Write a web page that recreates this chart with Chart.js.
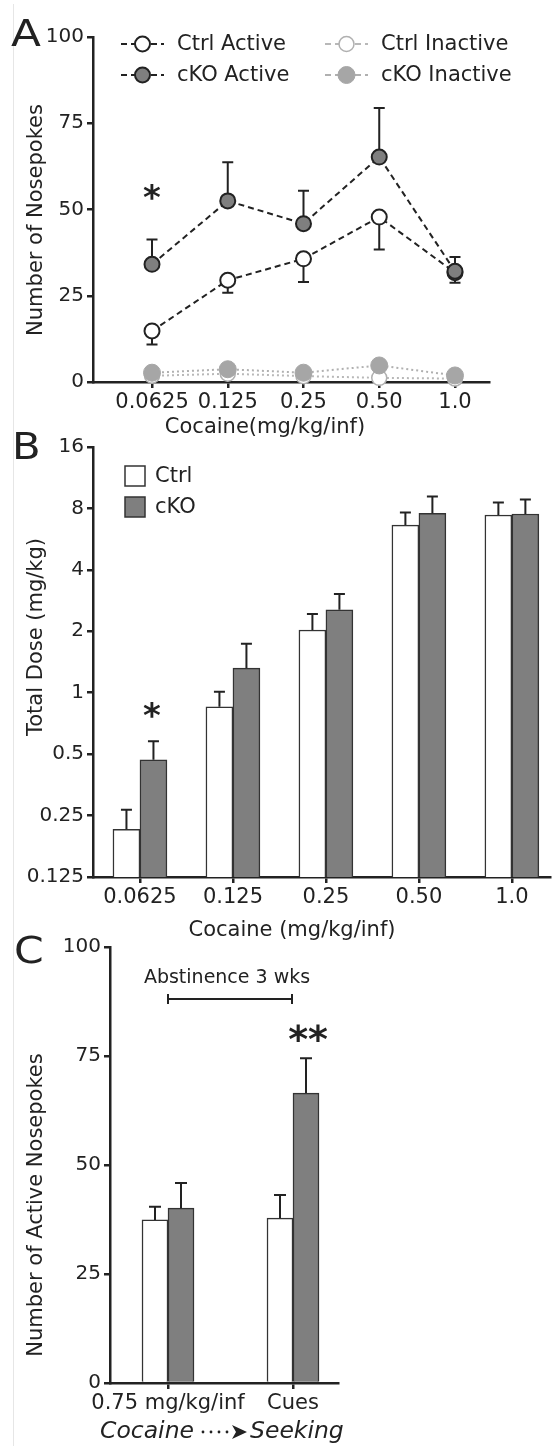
<!DOCTYPE html>
<html><head><meta charset="utf-8">
<script src="https://cdn.jsdelivr.net/npm/chart.js@4.4.1/dist/chart.umd.min.js"></script>
<style>
html,body{margin:0;padding:0;background:#fff;}
#wrap{position:relative;width:560px;height:1446px;overflow:hidden;background:#fff;}
canvas{position:absolute;left:0;}
.frame{position:absolute;left:13px;top:4px;width:1px;height:1442px;background:#e6e6e6;}
</style></head><body>
<div id="wrap">
<div class="frame"></div>
<canvas id="cA" width="560" height="450" style="top:0;width:560px;height:450px"></canvas>
<canvas id="cB" width="560" height="510" style="top:430px;width:560px;height:510px"></canvas>
<canvas id="cC" width="560" height="516" style="top:930px;width:560px;height:516px"></canvas>
</div>
<script>
// ---------- data ----------
const doseLabels = ['0.0625', '0.125', '0.25', '0.50', '1.0'];
const ctrlActive = [14.8, 29.5, 35.7, 47.8, 31.7];
const ctrlActiveSem = [3.9, 3.6, 6.7, 9.4, 2.9];
const ckoActive = [34.1, 52.5, 45.9, 65.2, 32.1];
const ckoActiveSem = [7.2, 11.2, 9.5, 14.2, 4.1];
const ctrlInactive = [1.8, 2.4, 1.7, 1.2, 1.0];
const ckoInactive = [2.7, 3.7, 2.7, 4.8, 1.9];
const aTicks = [0, 25, 50, 75, 100];

const ctrlDose = [0.214, 0.853, 2.03, 6.63, 7.43];
const ctrlDoseSem = [0.053, 0.157, 0.40, 1.02, 1.12];
const ckoDose = [0.469, 1.32, 2.55, 7.57, 7.51];
const ckoDoseSem = [0.109, 0.42, 0.50, 1.57, 1.35];
const bTicks = [0.125, 0.25, 0.5, 1, 2, 4, 8, 16];

const seekLabels = ['0.75 mg/kg/inf', 'Cues'];
const ctrlSeek = [37.4, 37.8];
const ctrlSeekSem = [3.0, 5.3];
const ckoSeek = [40.1, 66.5];
const ckoSeekSem = [5.8, 8.0];
const cTicks = [0, 25, 50, 75, 100];

// ---------- helpers ----------
const F = "'DejaVu Sans', Verdana, sans-serif";
const INK = '#222';
const GRAY = '#7f7f7f';
function pts(arr) { return arr.map((v, i) => ({x: i, y: v})); }

function xAxis(labels, min, max, h) {
  return {
    type: 'linear', min: min, max: max, offset: false,
    afterBuildTicks(s) { s.ticks = labels.map((_, i) => ({value: i})); s.min = min; s.max = max; },
    afterFit(s) { s.height = h; },
    ticks: {callback: (v) => labels[v], font: {family: F, size: 21}, color: INK, padding: 2, maxRotation: 0, autoSkip: false},
    grid: {offset: false, drawOnChartArea: false, drawTicks: true, tickLength: 6, color: INK, lineWidth: 2.5},
    border: {display: true, color: INK, width: 2.5}
  };
}
function yAxis(type, min, max, ticksArr, w) {
  return {
    type: type, min: min, max: max,
    afterBuildTicks(s) { s.ticks = ticksArr.map(v => ({value: v})); s.min = min; s.max = max; },
    afterFit(s) { s.width = w; },
    ticks: {callback: (v) => String(v), font: {family: F, size: 20}, color: INK, padding: 3, autoSkip: false},
    grid: {drawOnChartArea: false, drawTicks: true, tickLength: 6, color: INK, lineWidth: 2.5},
    border: {display: true, color: INK, width: 2.5}
  };
}
function errPlugin(phase, cap) {
  const draw = (chart) => {
    const ctx = chart.ctx, ys = chart.scales.y;
    chart.data.datasets.forEach((ds, i) => {
      if (!ds.errors) return;
      const meta = chart.getDatasetMeta(i);
      meta.data.forEach((el, j) => {
        const v = ds.data[j].y, e = ds.errors[j];
        const y0 = ys.getPixelForValue(v);
        const y1 = ys.getPixelForValue(v + ds.errDir * e);
        ctx.save();
        ctx.strokeStyle = INK; ctx.lineWidth = 2; ctx.setLineDash([]);
        ctx.beginPath();
        ctx.moveTo(el.x, y0); ctx.lineTo(el.x, y1);
        ctx.moveTo(el.x - cap, y1); ctx.lineTo(el.x + cap, y1);
        ctx.stroke();
        ctx.restore();
      });
    });
  };
  return phase === 'before' ? {id: 'errB', beforeDatasetsDraw: draw} : {id: 'errA', afterDatasetsDraw: draw};
}
function texts(items) {
  return {id: 'texts', afterDraw(chart) {
    const ctx = chart.ctx;
    items.forEach(it => {
      ctx.save();
      ctx.font = (it.style || '') + ' ' + it.size + 'px ' + F;
      ctx.fillStyle = it.color || INK;
      ctx.textAlign = it.align || 'center';
      ctx.textBaseline = it.baseline || 'middle';
      ctx.translate(it.x, it.y);
      if (it.rot) ctx.rotate(it.rot);
      if (it.sx) ctx.scale(it.sx, 1);
      ctx.fillText(it.text, 0, 0);
      ctx.restore();
    });
  }};
}
const commonOpts = {responsive: false, animation: false, devicePixelRatio: 1, events: [],
  plugins: {legend: {display: false}, tooltip: {enabled: false}}};

// ---------- Panel A ----------
const legendA = {id: 'legendA', afterDraw(chart) {
  const ctx = chart.ctx;
  const pos = [[121, 44], [121, 75], [325, 44], [325, 75]];
  chart.data.datasets.forEach((ds, i) => {
    const [x, y] = pos[i];
    ctx.save();
    ctx.strokeStyle = ds.borderColor; ctx.lineWidth = ds.borderWidth;
    ctx.setLineDash([6, 4]);
    ctx.beginPath(); ctx.moveTo(x, y); ctx.lineTo(x + 43, y); ctx.stroke();
    ctx.setLineDash([]);
    ctx.beginPath(); ctx.arc(x + 21.5, y, ds.pointRadius, 0, Math.PI * 2);
    ctx.fillStyle = ds.pointBackgroundColor; ctx.fill();
    ctx.strokeStyle = ds.pointBorderColor; ctx.lineWidth = ds.pointBorderWidth; ctx.stroke();
    ctx.font = '21px ' + F; ctx.fillStyle = INK; ctx.textAlign = 'left'; ctx.textBaseline = 'middle';
    ctx.fillText(ds.label, x + 56, y + 1);
    ctx.restore();
  });
}};
new Chart(document.getElementById('cA'), {
  type: 'line',
  data: {datasets: [
    {label: 'Ctrl Active', data: pts(ctrlActive), errors: ctrlActiveSem, errDir: -1, borderColor: INK, borderWidth: 2, borderDash: [6, 4],
     pointRadius: 7.5, pointBackgroundColor: '#fff', pointBorderColor: INK, pointBorderWidth: 2, order: 2, clip: false},
    {label: 'cKO Active', data: pts(ckoActive), errors: ckoActiveSem, errDir: 1, borderColor: INK, borderWidth: 2, borderDash: [6, 4],
     pointRadius: 7.5, pointBackgroundColor: GRAY, pointBorderColor: INK, pointBorderWidth: 2, order: 1, clip: false},
    {label: 'Ctrl Inactive', data: pts(ctrlInactive), borderColor: '#b8b8b8', borderWidth: 2, borderDash: [2, 3],
     pointRadius: 7.5, pointBackgroundColor: '#fff', pointBorderColor: '#b0b0b0', pointBorderWidth: 1.5, order: 4, clip: false},
    {label: 'cKO Inactive', data: pts(ckoInactive), borderColor: '#b0b0b0', borderWidth: 2, borderDash: [2, 3],
     pointRadius: 8.5, pointBackgroundColor: '#a6a6a6', pointBorderColor: '#a6a6a6', pointBorderWidth: 1, order: 3, clip: false}
  ]},
  options: Object.assign({}, commonOpts, {
    layout: {padding: {top: 37, right: 71, left: 0, bottom: 0}},
    scales: {x: xAxis(doseLabels, -0.779, 4.449, 68), y: yAxis('linear', 0, 100, aTicks, 93)}
  }),
  plugins: [errPlugin('before', 5.5), legendA, texts([
    {text: 'A', x: 11, y: 46, size: 38, align: 'left', baseline: 'alphabetic', sx: 1.15},
    {text: '*', x: 152, y: 200, size: 34, style: 'bold'},
    {text: 'Cocaine(mg/kg/inf)', x: 265, y: 428, size: 21},
    {text: 'Number of Nosepokes', x: 37, y: 220, size: 21, rot: -Math.PI / 2}
  ])]
});

// ---------- Panel B ----------
const legendB = {id: 'legendB', afterDraw(chart) {
  const ctx = chart.ctx;
  const ys = [46, 77];
  chart.data.datasets.forEach((ds, i) => {
    ctx.save();
    ctx.fillStyle = ds.backgroundColor; ctx.strokeStyle = ds.borderColor; ctx.lineWidth = 1.5;
    ctx.fillRect(125, ys[i] - 10, 20, 20); ctx.strokeRect(125, ys[i] - 10, 20, 20);
    ctx.font = '21px ' + F; ctx.fillStyle = INK; ctx.textAlign = 'left'; ctx.textBaseline = 'middle';
    ctx.fillText(ds.label, 155, ys[i] + 1);
    ctx.restore();
  });
}};
new Chart(document.getElementById('cB'), {
  type: 'bar',
  data: {datasets: [
    {label: 'Ctrl', data: pts(ctrlDose), errors: ctrlDoseSem, errDir: 1, backgroundColor: '#fff', borderColor: '#333', borderWidth: 1.5, barThickness: 27},
    {label: 'cKO', data: pts(ckoDose), errors: ckoDoseSem, errDir: 1, backgroundColor: GRAY, borderColor: '#333', borderWidth: 1.5, barThickness: 27}
  ]},
  options: Object.assign({}, commonOpts, {
    layout: {padding: {top: 17, right: 10, left: 0, bottom: 0}},
    scales: {x: xAxis(doseLabels, -0.505, 4.41, 63), y: yAxis('logarithmic', 0.125, 16, bTicks, 93)}
  }),
  plugins: [errPlugin('after', 5.5), legendB, texts([
    {text: 'B', x: 12, y: 29, size: 38, align: 'left', baseline: 'alphabetic', sx: 1.1},
    {text: '*', x: 152, y: 288, size: 34, style: 'bold'},
    {text: 'Cocaine (mg/kg/inf)', x: 292, y: 501, size: 21},
    {text: 'Total Dose (mg/kg)', x: 37, y: 207, size: 21, rot: -Math.PI / 2}
  ])]
});

// ---------- Panel C ----------
const decoC = {id: 'decoC', afterDraw(chart) {
  const ctx = chart.ctx;
  ctx.save();
  ctx.strokeStyle = INK; ctx.lineWidth = 2;
  ctx.beginPath();
  ctx.moveTo(168, 69); ctx.lineTo(292, 69);
  ctx.moveTo(168, 64); ctx.lineTo(168, 74);
  ctx.moveTo(292, 64); ctx.lineTo(292, 74);
  ctx.stroke();
  // dotted arrow between "Cocaine" and "Seeking"
  ctx.fillStyle = INK;
  [203, 211, 219, 227].forEach(x => { ctx.beginPath(); ctx.arc(x, 502, 1.4, 0, Math.PI * 2); ctx.fill(); });
  ctx.beginPath();
  ctx.moveTo(232, 495); ctx.lineTo(247, 502); ctx.lineTo(232, 509); ctx.lineTo(236, 502); ctx.closePath(); ctx.fill();
  ctx.restore();
}};
new Chart(document.getElementById('cC'), {
  type: 'bar',
  data: {datasets: [
    {label: 'Ctrl', data: pts(ctrlSeek), errors: ctrlSeekSem, errDir: 1, backgroundColor: '#fff', borderColor: '#333', borderWidth: 1.5, barThickness: 26},
    {label: 'cKO', data: pts(ckoSeek), errors: ckoSeekSem, errDir: 1, backgroundColor: GRAY, borderColor: '#333', borderWidth: 1.5, barThickness: 26}
  ]},
  options: Object.assign({}, commonOpts, {
    layout: {padding: {top: 17, right: 222, left: 0, bottom: 0}},
    scales: {x: xAxis(seekLabels, -0.464, 1.36, 63), y: yAxis('linear', 0, 100, cTicks, 110)}
  }),
  plugins: [errPlugin('after', 6), decoC, texts([
    {text: 'C', x: 14, y: 33, size: 38, align: 'left', baseline: 'alphabetic', sx: 1.12},
    {text: 'Abstinence 3 wks', x: 227, y: 48, size: 19},
    {text: '**', x: 308, y: 112, size: 38, style: 'bold'},
    {text: 'Number of Active Nosepokes', x: 37, y: 275, size: 21, rot: -Math.PI / 2},
    {text: 'Cocaine', x: 100, y: 502, size: 23.5, align: 'left', style: 'italic'},
    {text: 'Seeking', x: 250, y: 502, size: 23.5, align: 'left', style: 'italic'}
  ])]
});
</script>
</body></html>
